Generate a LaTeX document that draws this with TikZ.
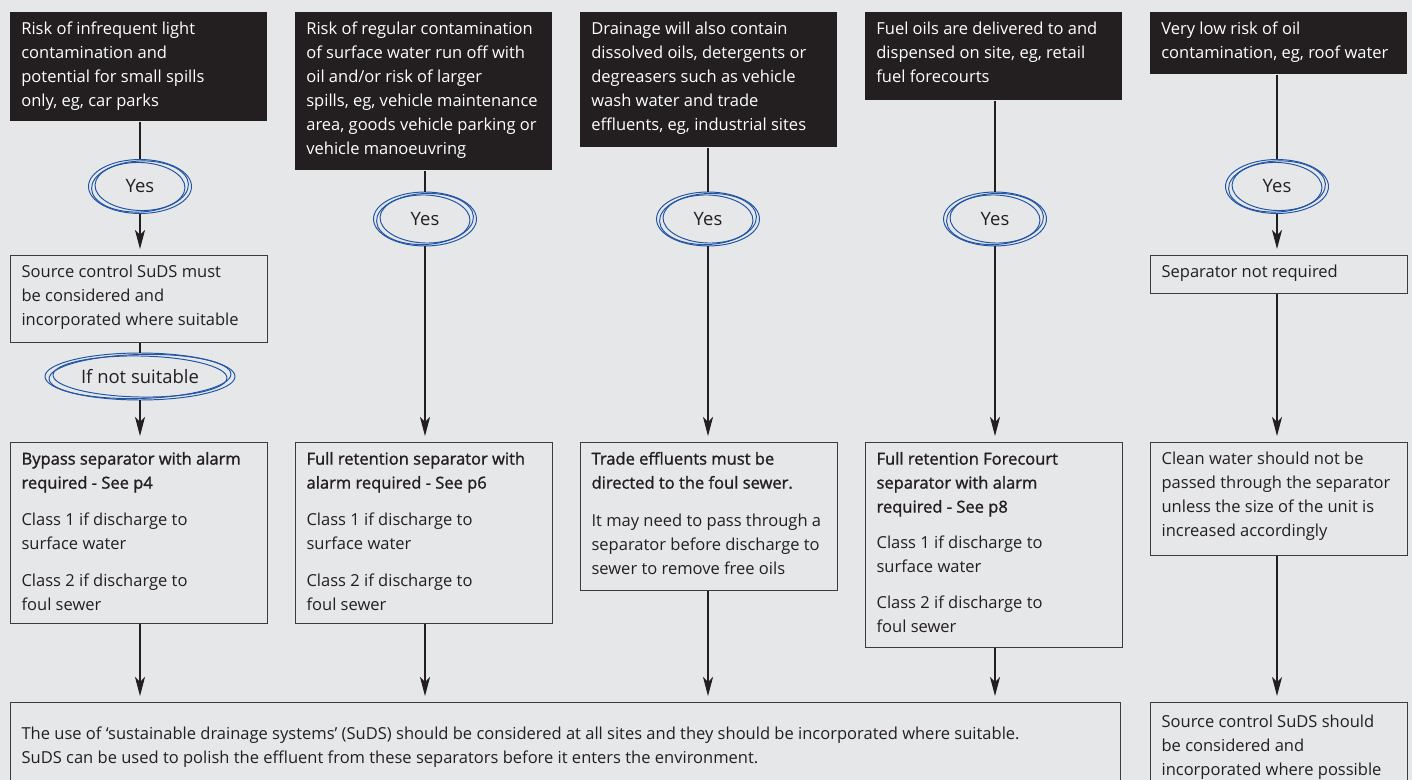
\documentclass[tikz,border=0pt]{standalone}
\usepackage{fontspec}
\setmainfont{Open Sans}
\newfontfamily\headfont[FakeBold=1.3]{Open Sans}
\usetikzlibrary{shapes.geometric, arrows.meta, positioning}
\definecolor{pagegrey}{RGB}{230,231,233}
\definecolor{boxblack}{RGB}{35,31,32}
\definecolor{inkblack}{RGB}{35,31,32}
\definecolor{edgegrey}{RGB}{60,60,62}
\definecolor{ringblue}{RGB}{32,84,164}

\newcommand{\boxtext}[4][0cm]{\parbox[t][#3][t]{#2}{\vspace*{#1}\raggedright\strut #4}}

\tikzset{
    darkbox/.style={fill=boxblack, text=white, anchor=north west, inner xsep=0.22cm, inner ysep=0.105cm},
    lightbox/.style={draw=edgegrey, line width=0.65pt, text=inkblack, anchor=north west, inner xsep=0.22cm, inner ysep=0.105cm},
    ring/.style={draw=ringblue, line width=0.55pt},
    yesring/.style={ellipse, ring, inner sep=0pt, text=inkblack, font=\fontsize{10.5}{12}\selectfont},
    link/.style={draw=inkblack, line width=0.6pt},
    flow/.style={link, -{Stealth[length=0.38cm, width=0.2cm, inset=0.1cm]}, shorten >=0.12cm}
}

\begin{document}
\begin{tikzpicture}[x=0.02cm, y=-0.02cm, font=\fontsize{9.4}{13.66}\selectfont]
    \useasboundingbox (0,0) rectangle (1412,780);
    \fill[pagegrey] (0,0) rectangle (1412,780);
    \clip (0,0) rectangle (1412,780);

    % Question boxes
    \node[darkbox] (q1) at (10,12) {\boxtext{4.7cm}{1.97cm}{Risk of infrequent light\\contamination and\\potential for small spills\\only, eg, car parks}};
    \node[darkbox] (q2) at (295,12) {\boxtext{4.7cm}{2.95cm}{Risk of regular contamination\\of surface water run off with\\oil and/or risk of larger\\spills, eg, vehicle maintenance\\area, goods vehicle parking or\\vehicle manoeuvring}};
    \node[darkbox] (q3) at (580,12) {\boxtext{4.7cm}{2.49cm}{Drainage will also contain\\dissolved oils, detergents or\\degreasers such as vehicle\\wash water and trade\\effluents, eg, industrial sites}};
    \node[darkbox] (q4) at (865,12) {\boxtext{4.7cm}{1.55cm}{Fuel oils are delivered to and\\dispensed on site, eg, retail\\fuel forecourts}};
    \node[darkbox] (q5) at (1150,12) {\boxtext{4.7cm}{1.03cm}{Very low risk of oil\\contamination, eg, roof water}};

    % Yes ellipses
    \node[yesring, minimum width=2.06cm, minimum height=1.08cm] (yes1) at (140,186.5) {Yes};
    \node[yesring, minimum width=2.06cm, minimum height=1.08cm] (yes2) at (425,219) {Yes};
    \node[yesring, minimum width=2.06cm, minimum height=1.08cm] (yes3) at (708,219) {Yes};
    \node[yesring, minimum width=2.06cm, minimum height=1.08cm] (yes4) at (995,219) {Yes};
    \node[yesring, minimum width=2.06cm, minimum height=1.08cm] (yes5) at (1277,186.5) {Yes};
    \foreach \n in {yes1,yes2,yes3,yes4,yes5} {
        \draw[ring, rotate around={3:(\n.center)}] (\n.center) ellipse (0.97cm and 0.51cm);
        \draw[ring, rotate around={-2:(\n.center)}] (\n.center) ellipse (0.9cm and 0.48cm);
    }

    % Middle boxes
    \node[lightbox] (src) at (10,255) {\boxtext{4.7cm}{1.53cm}{Source control SuDS must\\be considered and\\incorporated where suitable}};
    \node[lightbox] (nosep) at (1150,255) {\boxtext{4.7cm}{0.55cm}{Separator not required}};
    \node[yesring, minimum width=3.8cm, minimum height=0.94cm] (ifnot) at (140,376.5) {If not suitable};
    \draw[ring, rotate around={1.5:(ifnot.center)}] (ifnot.center) ellipse (1.82cm and 0.44cm);
    \draw[ring, rotate around={-1:(ifnot.center)}] (ifnot.center) ellipse (1.74cm and 0.41cm);

    % Separator boxes
    \node[lightbox] (bypass) at (10,442) {\boxtext{4.7cm}{3.41cm}{{\headfont Bypass separator with alarm\\required - See p4}\\[0.26cm]Class 1 if discharge to\\surface water\\[0.26cm]Class 2 if discharge to\\foul sewer}};
    \node[lightbox] (fullret) at (295,442) {\boxtext{4.7cm}{3.41cm}{{\headfont Full retention separator with\\alarm required - See p6}\\[0.26cm]Class 1 if discharge to\\surface water\\[0.26cm]Class 2 if discharge to\\foul sewer}};
    \node[lightbox] (trade) at (580,442) {\boxtext{4.7cm}{2.75cm}{{\headfont Trade effluents must be\\directed to the foul sewer.}\\[0.28cm]It may need to pass through a\\separator before discharge to\\sewer to remove free oils}};
    \node[lightbox] (forecourt) at (865,442) {\boxtext{4.7cm}{3.89cm}{{\headfont Full retention Forecourt\\separator with alarm\\required - See p8}\\[0.24cm]Class 1 if discharge to\\surface water\\[0.24cm]Class 2 if discharge to\\foul sewer}};
    \node[lightbox] (clean) at (1150,442) {\boxtext{4.7cm}{2.05cm}{Clean water should not be\\passed through the separator\\unless the size of the unit is\\increased accordingly}};

    % Bottom boxes
    \node[lightbox] (suds) at (10,702) {\boxtext[0.3cm]{21.76cm}{1.79cm}{The use of ‘sustainable drainage systems’ (SuDS) should be considered at all sites and they should be incorporated where suitable.\\SuDS can be used to polish the effluent from these separators before it enters the environment.}};
    \node[lightbox] (srcpos) at (1150,702) {\boxtext[0.06cm]{4.7cm}{1.79cm}{Source control SuDS should\\be considered and\\incorporated where possible}};

    % Connectors
    \foreach \q/\y in {q1/yes1, q2/yes2, q3/yes3, q4/yes4, q5/yes5} {
        \draw[link] (\q.south -| \y) -- (\y);
    }
    \draw[flow] (yes1) -- (yes1 |- src.north);
    \draw[link] (src.south -| ifnot) -- (ifnot);
    \draw[flow] (ifnot) -- (ifnot |- bypass.north);
    \draw[flow] (yes2) -- (yes2 |- fullret.north);
    \draw[flow] (yes3) -- (yes3 |- trade.north);
    \draw[flow] (yes4) -- (yes4 |- forecourt.north);
    \draw[flow] (yes5) -- (yes5 |- nosep.north);
    \draw[flow] (nosep.south -| yes5) -- (yes5 |- clean.north);
    \draw[flow] (clean.south -| yes5) -- (yes5 |- srcpos.north);
    \foreach \b/\y in {bypass/yes1, fullret/yes2, trade/yes3, forecourt/yes4} {
        \draw[flow] (\b.south -| \y) -- (\y |- suds.north);
    }
\end{tikzpicture}
\end{document}
